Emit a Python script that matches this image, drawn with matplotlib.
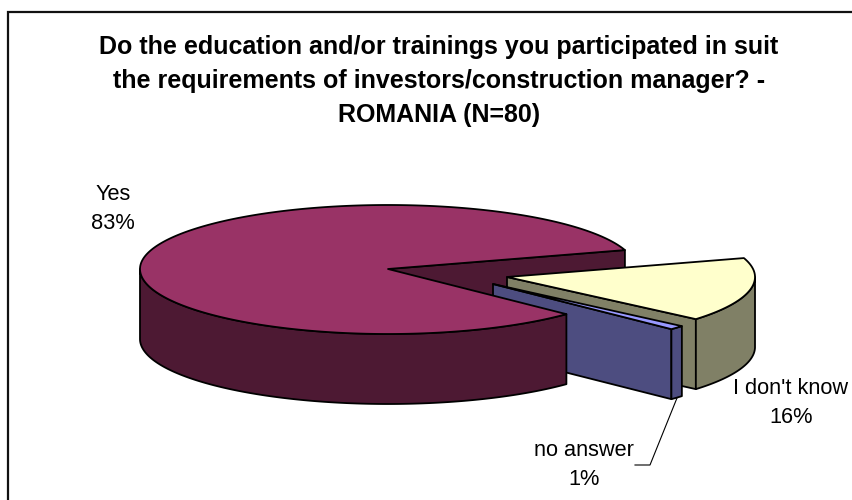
"""Exploded 3D pie, drawn by hand with polygons in pixel coordinates."""

import matplotlib
matplotlib.use("Agg")
import matplotlib.pyplot as plt
import numpy as np
from matplotlib.patches import Polygon

plt.rcParams["font.family"] = ["Liberation Sans", "DejaVu Sans"]

TITLE = ("Do the education and/or trainings you participated in suit\n"
         "the requirements of investors/construction manager? -\n"
         "ROMANIA (N=80)")

CATEGORIES = ["Yes", "I don't know", "no answer"]
VALUES = [83, 16, 1]
PERCENT_LABELS = ["83%", "16%", "1%"]

TOP_COLORS = ["#993366", "#FFFFCC", "#9999FF"]
SIDE_COLORS = ["#4D1933", "#808066", "#4D4D80"]

# pie geometry, in pixels
CENTERS = [(388, 269), (507, 277), (493, 284)]
RX = 248
RY_BACK = 64
RY_FRONT = 65
DEPTH = 70
YES_LOW_ANGLE = -44.0

EDGE = dict(edgecolor="black", linewidth=1.3, joinstyle="round")


def rim(center, a0, a1, n=200):
    """Points on the top ellipse between two angles (degrees)."""
    t = np.radians(np.linspace(a0, a1, n))
    s = np.sin(t)
    ry = np.where(s > 0, RY_BACK, RY_FRONT)
    return np.column_stack([center[0] + RX * np.cos(t), center[1] - ry * s])


def extrude(points):
    """Close a band between a curve and the same curve pushed down by DEPTH."""
    low = points[::-1] + np.array([0, DEPTH])
    return np.vstack([points, low])


def main():
    fig = plt.figure(figsize=(8.53, 5.0), dpi=100, facecolor="white")
    ax = fig.add_axes([0, 0, 1, 1])
    ax.set_xlim(0, 853)
    ax.set_ylim(500, 0)
    ax.axis("off")

    # chart frame, only its left and top sides are inside the crop
    ax.plot([8, 8, 853], [500, 11.5, 11.5], color="#111111", linewidth=1.6,
            solid_joinstyle="miter")

    # slice angles, going clockwise from the low edge of Yes
    sweep = [v / sum(VALUES) * 360 for v in VALUES]
    yes_a0 = YES_LOW_ANGLE
    yes_a1 = yes_a0 - sweep[0]          # goes round through the left side
    idk_a0 = yes_a1 + 360
    idk_a1 = idk_a0 - sweep[1]
    na_a0 = idk_a1
    na_a1 = na_a0 - sweep[2]

    # Yes: inner wall seen through the gap
    c = np.array(CENTERS[0], dtype=float)
    corner = rim(c, idk_a0, idk_a0, 1)
    wall = extrude(np.vstack([c, corner]))
    ax.add_patch(Polygon(wall, facecolor=SIDE_COLORS[0], **EDGE))

    # I don't know
    c = np.array(CENTERS[1], dtype=float)
    outer = rim(c, idk_a0, idk_a1)
    ax.add_patch(Polygon(extrude(np.vstack([c, outer[-1]])),
                         facecolor=SIDE_COLORS[1], **EDGE))
    ax.add_patch(Polygon(extrude(rim(c, 0, idk_a1)),
                         facecolor=SIDE_COLORS[1], **EDGE))
    ax.add_patch(Polygon(np.vstack([c, outer]), facecolor=TOP_COLORS[1], **EDGE))

    # no answer
    c = np.array(CENTERS[2], dtype=float)
    outer = rim(c, na_a0, na_a1, 20)
    ax.add_patch(Polygon(extrude(np.vstack([c, outer[-1]])),
                         facecolor=SIDE_COLORS[2], **EDGE))
    ax.add_patch(Polygon(extrude(outer), facecolor=SIDE_COLORS[2], **EDGE))
    ax.add_patch(Polygon(np.vstack([c, outer]), facecolor=TOP_COLORS[2], **EDGE))

    # Yes: top and front rim go last, they hide the other walls
    c = np.array(CENTERS[0], dtype=float)
    ax.add_patch(Polygon(extrude(rim(c, yes_a0, -180)),
                         facecolor=SIDE_COLORS[0], **EDGE))
    ax.add_patch(Polygon(np.vstack([c, rim(c, yes_a0, yes_a1, 400)]),
                         facecolor=TOP_COLORS[0], **EDGE))

    ax.text(439, 81, TITLE, ha="center", va="center", fontsize=18,
            fontweight="bold", linespacing=1.54, color="black")

    label_pos = [(113, 209), (791, 403), (584, 465)]
    for name, pct, (x, y) in zip(CATEGORIES, PERCENT_LABELS, label_pos):
        ax.text(x, y, f"{name}\n{pct}", ha="center", va="center", fontsize=15.7,
                linespacing=1.54, color="black")

    # leader line of "no answer"
    ax.plot([677, 650, 635], [398, 465, 465], color="black", linewidth=0.8)

    fig.savefig("out.png", dpi=100, facecolor="white")
    plt.close(fig)


if __name__ == "__main__":
    main()
